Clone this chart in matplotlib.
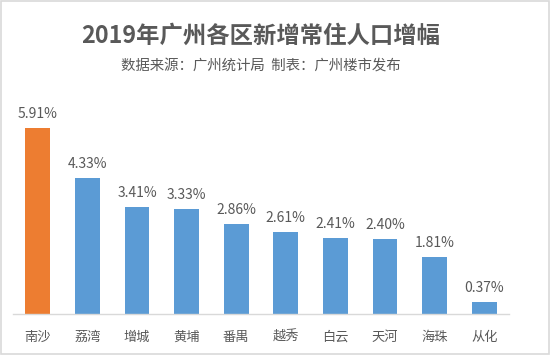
import matplotlib.pyplot as plt
from matplotlib.patches import Rectangle

plt.rcParams["font.family"] = ["Noto Sans CJK SC", "DejaVu Sans"]

districts = ["南沙", "荔湾", "增城", "黄埔", "番禺", "越秀", "白云", "天河", "海珠", "从化"]
growth = [5.91, 4.33, 3.41, 3.33, 2.86, 2.61, 2.41, 2.40, 1.81, 0.37]
colors = ["#ED7D31"] + ["#5B9BD5"] * (len(districts) - 1)

text_color = "#595959"

fig = plt.figure(figsize=(5.5, 3.55), dpi=100)
fig.patches.append(Rectangle((0.002, 0.003), 0.996, 0.994, transform=fig.transFigure,
                             fill=False, ec="#d9d9d9", lw=1.2))

ax = fig.add_axes([0.0236, 0.1155, 0.902, 0.62])
x = list(range(len(districts)))
bars = ax.bar(x, growth, width=0.5, color=colors)
ax.set_xlim(-0.5, len(districts) - 0.5)
ax.set_ylim(0, 7)

for rect, v in zip(bars, growth):
    ax.annotate(f"{v:.2f}%", (rect.get_x() + rect.get_width() / 2, v),
                xytext=(0, 5), textcoords="offset points", ha="center", va="bottom",
                fontsize=10, color=text_color)

ax.set_xticks(x)
ax.set_xticklabels(districts, fontsize=9.5, color=text_color)
ax.tick_params(axis="x", length=0, pad=12)
ax.set_yticks([])
for side in ["left", "right", "top"]:
    ax.spines[side].set_visible(False)
ax.spines["bottom"].set_color("#d9d9d9")
ax.spines["bottom"].set_linewidth(1.0)

cx = 0.0236 + 0.902 / 2
fig.text(cx, 0.898, "2019年广州各区新增常住人口增幅", ha="center", va="center",
         fontsize=16.8, fontweight="bold", color=text_color)
fig.text(cx, 0.815, "数据来源：广州统计局  制表：广州楼市发布", ha="center", va="center",
         fontsize=10.4, color=text_color)

fig.savefig("out.png", dpi=100)
